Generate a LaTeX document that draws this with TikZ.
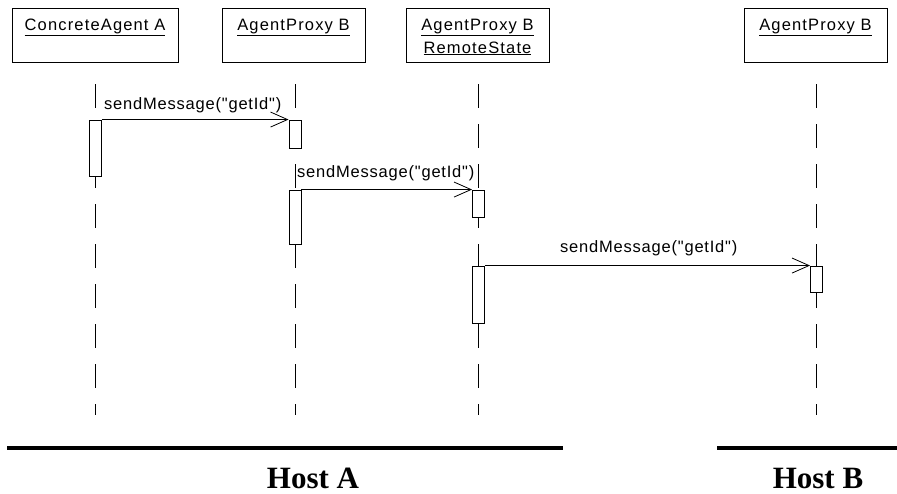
\documentclass[tikz,border=0pt]{standalone}
\usepackage{fontspec}
\usetikzlibrary{arrows.meta}
\newfontfamily\umlfont[LetterSpace=7]{Liberation Sans}
\newfontfamily\msgfont[LetterSpace=4.8]{Liberation Sans}
\newfontfamily\hostfont{Liberation Serif}
\tikzset{
  headbox/.style={draw, line width=0.9pt, inner sep=0pt, minimum height=54pt},
  headtext/.style={anchor=base, inner sep=0pt, font=\umlfont\fontsize{16.5}{19}\selectfont},
  lifeline/.style={line width=0.8pt, dash pattern=on 24pt off 16pt},
  act/.style={draw, fill=white, line width=0.9pt, inner sep=0pt, minimum width=12pt},
  msg/.style={line width=0.8pt, -{Straight Barb[length=17pt, width=15pt, line width=0.8pt]}},
  msgtext/.style={anchor=base west, inner sep=0pt, font=\msgfont\fontsize{16.5}{19}\selectfont},
  hostline/.style={line width=4pt},
  hosttext/.style={anchor=base, inner sep=0pt, font=\hostfont\bfseries\fontsize{31}{36}\selectfont}
}
\begin{document}
\begin{tikzpicture}[x=1pt, y=-1pt]
  \useasboundingbox (0,0) rectangle (897,493);

  % object heads
  \node[headbox, minimum width=166pt] (hA) at (95,35) {};
  \node[headbox, minimum width=143pt] (hB) at (293.5,35) {};
  \node[headbox, minimum width=143pt] (hR) at (477.5,35) {};
  \node[headbox, minimum width=143pt] (hC) at (815.5,35) {};
  \node[headtext] (tA) at (95,30) {\underline{ConcreteAgent A}};
  \node[headtext] (tB) at (293.5,30) {\underline{AgentProxy B}};
  \node[headtext] (tR1) at (477.5,30) {\underline{AgentProxy B}};
  \node[headtext] (tR2) at (477.5,53) {\underline{RemoteState}};
  \node[headtext] (tC) at (815.5,30) {\underline{AgentProxy B}};

  % lifelines
  \coordinate (lAt) at (95.5,84);  \coordinate (lAb) at (95.5,415);
  \coordinate (lBt) at (295,84);   \coordinate (lBb) at (295,415);
  \coordinate (lRt) at (478.5,84); \coordinate (lRb) at (478.5,415);
  \coordinate (lCt) at (816.5,84); \coordinate (lCb) at (816.5,415);
  \draw[lifeline] (lAt) -- (lAb);
  \draw[lifeline] (lBt) -- (lBb);
  \draw[lifeline] (lRt) -- (lRb);
  \draw[lifeline] (lCt) -- (lCb);

  % activation bars
  \node[act, minimum height=56pt] (act1)  at (95.5,148) {};
  \node[act, minimum height=28pt] (act2a) at (295,134) {};
  \node[act, minimum height=54pt] (act2b) at (295,217) {};
  \node[act, minimum height=27pt] (act3a) at (478.5,203.5) {};
  \node[act, minimum height=57pt] (act3b) at (478.5,294.5) {};
  \node[act, minimum height=26pt] (act4)  at (816.5,279) {};

  % messages
  \draw[msg] (act1.north east) -- (act2a.north west);
  \draw[msg] (act2b.north east) -- (act3a.north west);
  \draw[msg] (act3b.north east) -- (act4.north west);
  \node[msgtext] (m1) at (104,109) {sendMessage("getId")};
  \node[msgtext] (m2) at (297,177) {sendMessage("getId")};
  \node[msgtext] (m3) at (560,252) {sendMessage("getId")};

  % hosts
  \coordinate (hostAl) at (7,448);   \coordinate (hostAr) at (563,448);
  \coordinate (hostBl) at (717,448); \coordinate (hostBr) at (897,448);
  \draw[hostline] (hostAl) -- (hostAr);
  \draw[hostline] (hostBl) -- (hostBr);
  \node[hosttext] (hostA) at (313,488) {Host A};
  \node[hosttext] (hostB) at (818,488) {Host B};
\end{tikzpicture}
\end{document}
